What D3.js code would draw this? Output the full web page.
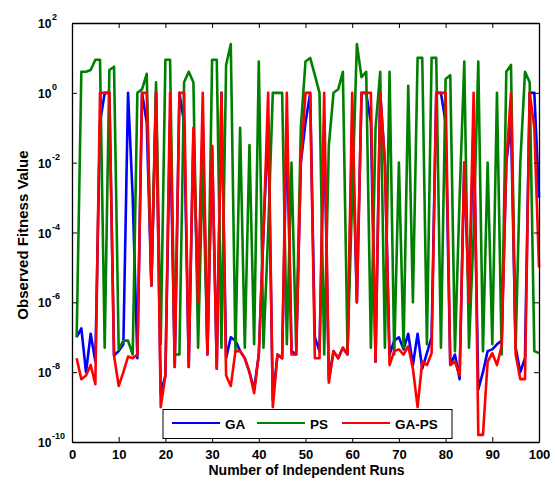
<!DOCTYPE html>
<html><head><meta charset="utf-8">
<script src="https://cdn.jsdelivr.net/npm/d3@7"></script>
<style>body{margin:0;background:#fff}svg{display:block}</style>
</head><body>
<svg id="c" width="555" height="486"></svg>
<script>
// ---- data (observed fitness value per independent run, runs 1..100) ----
const seriesNames = ["GA", "PS", "GA-PS"];
const seriesColors = ["#0000ff", "#008000", "#ff0000"];

const gaValues = [
  1e-7, 1.8e-7, 1e-8, 1.26e-7, 2e-8, 0.14, 1, 1, 3e-8, 4e-8,
  6.3e-8, 1, 1e-3, 2.5e-8, 1, 0.14, 3e-6, 1, 2.5e-9, 8e-9,
  0.16, 1.4e-8, 1, 0.14, 1.4e-8, 0.063, 1e-6, 0.14, 3.2e-8, 0.03,
  1.26e-8, 1, 2.5e-8, 1e-7, 8e-8, 4e-8, 2.5e-8, 1e-8, 3.2e-9, 3.2e-8,
  1e-4, 0.14, 1.6e-9, 3.2e-8, 2.5e-8, 0.14, 4e-8, 3.2e-8, 0.01, 0.14,
  1, 1e-7, 4e-8, 0.14, 6.3e-9, 4e-8, 2.5e-8, 5e-8, 3.2e-8, 0.14,
  1e-6, 1, 1, 0.14, 2e-8, 1, 0.01, 3.2e-8, 8e-8, 1e-7,
  4.5e-8, 1.26e-7, 1.6e-8, 1.26e-7, 1.26e-8, 3.5e-8, 1e-7, 1, 1, 0.14,
  1.6e-8, 3.2e-8, 6.3e-9, 0.01, 1e-6, 0.14, 3.2e-9, 1e-8, 4e-8, 4.5e-8,
  6.3e-8, 8e-8, 0.01, 0.14, 5e-8, 1e-8, 2.5e-8, 1, 1, 1e-3
];
const psValues = [
  1e-7, 4, 4, 4.5, 8.9, 8.9, 5e-8, 4.5, 5.6, 4.5e-8,
  8e-8, 8e-8, 3.2e-8, 1, 1.26, 3.5, 3.2e-6, 2, 6.3e-8, 8.9,
  8.9, 3.2e-8, 3.2e-8, 2, 4, 2, 5e-8, 1e-2, 4e-8, 8.9,
  8.9, 5e-8, 6.3, 25, 4e-8, 0.1, 5e-8, 0.032, 6.3e-8, 7.9,
  5e-8, 1e-4, 1, 1, 1, 6.3e-8, 0.01, 5e-8, 0.1, 7.9,
  10, 3.2, 1, 3.2e-8, 0.032, 1, 1.26, 4, 4e-8, 1e-3,
  25, 2.8, 4, 5e-8, 0.1, 4, 5e-8, 4, 3.2e-8, 0.01,
  5e-8, 1.6, 1e-6, 10, 10, 6.3e-8, 10, 10, 5e-8, 2.5,
  3.2, 4e-8, 1e-3, 7.9, 5e-8, 1e-4, 7.9, 4e-8, 0.01, 6.3e-8,
  1, 3.2e-8, 4, 6.3, 5e-8, 0.01, 4, 2, 4e-8, 3.5e-8
];
const gapsValues = [
  2.5e-8, 6.3e-9, 8e-9, 1.6e-8, 4.5e-9, 1, 1, 1, 3e-8, 4e-9,
  1e-8, 2.8e-8, 2.5e-8, 3.2e-8, 1, 1, 3e-6, 1, 1e-9, 8e-9,
  1, 1.4e-8, 1, 1, 1.4e-8, 0.1, 1e-6, 1, 3.2e-8, 0.03,
  1.26e-8, 1, 8e-9, 4e-9, 4e-8, 4e-8, 2.5e-8, 1e-8, 2.5e-9, 3.2e-8,
  1e-4, 1, 1e-9, 3.2e-8, 2.5e-8, 1, 3.2e-8, 3.2e-8, 0.01, 1,
  1, 2.5e-8, 2.5e-8, 1, 5e-9, 4e-8, 2.5e-8, 5e-8, 3.2e-8, 1,
  1e-6, 1, 1, 1, 2e-8, 1, 0.01, 1.6e-8, 4e-8, 4.5e-8,
  3.2e-8, 5.6e-8, 1.26e-8, 1e-9, 2e-8, 1.6e-8, 3.5e-8, 1, 1, 1,
  1.6e-8, 2e-8, 8e-9, 0.01, 1e-6, 1, 1.6e-10, 1.6e-10, 2e-8, 3.5e-8,
  1.6e-8, 5.6e-8, 0.01, 1, 3.2e-8, 6.3e-9, 6.3e-9, 1, 0.1, 1e-5
];
const xTickValues = [0, 10, 20, 30, 40, 50, 60, 70, 80, 90, 100];
const yTickExponents = [2, 0, -2, -4, -6, -8, -10];
const xTitle = "Number of Independent Runs";
const yTitle = "Observed Fitness Value";

// ---- layout ----
const L = 72, R = 539, T = 23, B = 442;
const svg = d3.select("#c");
const FONT = "Arial, 'Liberation Sans', sans-serif";

const x = d3.scaleLinear().domain([0, 100]).range([L, R]);
const y = d3.scaleLog().domain([1e-10, 1e2]).range([B, T]);

// lines
const line = d3.line().x((d, i) => x(i + 1)).y(d => y(d));
const allSeries = [gaValues, psValues, gapsValues];
const plot = svg.append("g");
allSeries.forEach((vals, k) => {
  plot.append("path")
    .attr("d", line(vals))
    .attr("fill", "none")
    .attr("stroke", seriesColors[k])
    .attr("stroke-width", 2.6)
    .attr("stroke-linejoin", "round");
});

// axes frame + ticks
const yTickVals = yTickExponents.map(e => Math.pow(10, e));
const axB = d3.axisBottom(x).tickValues(xTickValues).tickSize(-5).tickPadding(8).tickSizeOuter(0);
const axT = d3.axisTop(x).tickValues(xTickValues).tickSize(-5).tickFormat("").tickSizeOuter(0);
const axLft = d3.axisLeft(y).tickValues(yTickVals).tickSize(-5).tickFormat("").tickSizeOuter(0);
const axRgt = d3.axisRight(y).tickValues(yTickVals).tickSize(-5).tickFormat("").tickSizeOuter(0);

const gB = svg.append("g").attr("transform", `translate(0,${B})`).call(axB);
svg.append("g").attr("transform", `translate(0,${T})`).call(axT);
svg.append("g").attr("transform", `translate(${L},0)`).call(axLft);
svg.append("g").attr("transform", `translate(${R},0)`).call(axRgt);
svg.selectAll(".domain").attr("stroke", "#000").attr("stroke-width", 1.3);
svg.selectAll(".tick line").attr("stroke", "#000").attr("stroke-width", 1);
gB.selectAll(".tick text")
  .attr("font-family", FONT).attr("font-weight", "bold").attr("font-size", 13)
  .attr("fill", "#000");

// y tick labels 10^e (base and exponent as separate texts)
const yl = svg.append("g");
yTickExponents.forEach(e => {
  const yy = y(Math.pow(10, e));
  yl.append("text").attr("x", 38).attr("y", yy + 5)
    .attr("font-family", FONT).attr("font-weight", "bold").attr("fill", "#000")
    .attr("font-size", 12)
    .text("10");
  yl.append("text").attr("x", 52).attr("y", yy - 3)
    .attr("font-family", FONT).attr("font-weight", "bold").attr("fill", "#000")
    .attr("font-size", 9)
    .text(String(e));
});

// axis titles
svg.append("text").attr("x", (L + R) / 2 + 1).attr("y", 475)
  .attr("text-anchor", "middle").attr("font-family", FONT).attr("font-weight", "bold")
  .attr("font-size", 14).attr("fill", "#000")
  .text(xTitle);
svg.append("text").attr("transform", `translate(28,235) rotate(-90)`)
  .attr("text-anchor", "middle").attr("font-family", FONT).attr("font-weight", "bold")
  .attr("font-size", 15).attr("fill", "#000")
  .text(yTitle);

// legend
const lg = svg.append("g");
lg.append("rect").attr("x", 163).attr("y", 409.5).attr("width", 289).attr("height", 29)
  .attr("fill", "#fff").attr("stroke", "#000").attr("stroke-width", 1);
const legX = [172, 257, 342];
seriesNames.forEach((nm, k) => {
  lg.append("line").attr("x1", legX[k]).attr("x2", legX[k] + 48)
    .attr("y1", 423).attr("y2", 423)
    .attr("stroke", seriesColors[k]).attr("stroke-width", 2.2);
  lg.append("text").attr("x", legX[k] + 53).attr("y", 428.5)
    .attr("font-family", FONT).attr("font-weight", "bold").attr("font-size", 13.5)
    .attr("fill", "#000")
    .text(nm);
});
</script>
</body></html>
